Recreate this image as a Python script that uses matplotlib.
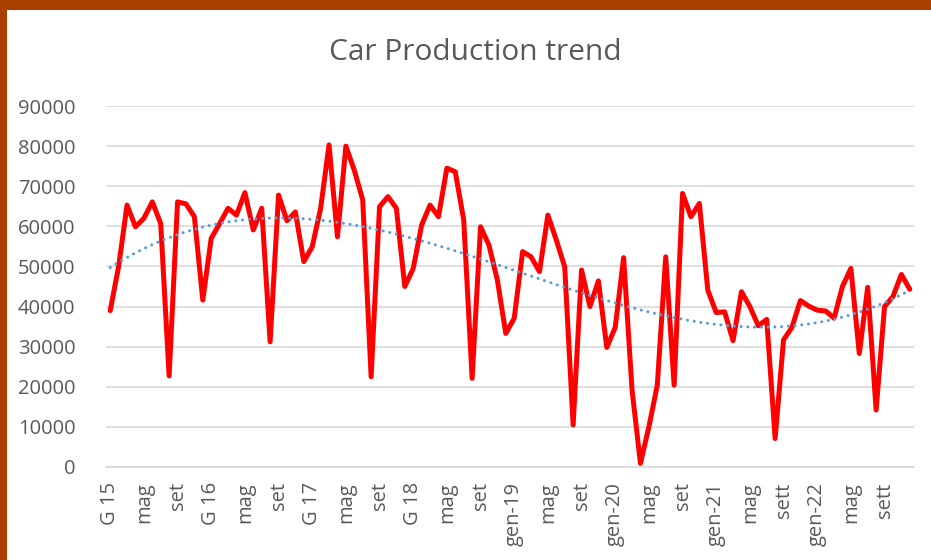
import numpy as np
import matplotlib
matplotlib.use("Agg")
import matplotlib.pyplot as plt
from matplotlib.patches import Rectangle

# Monthly car production, Jan 2015 .. Dec 2022
production = [
    39000, 50000, 65300, 59900, 62000, 66100, 60700, 22700, 66100, 65600, 62400, 41600,   # 2015
    57000, 60700, 64500, 62800, 68400, 59100, 64500, 31200, 67800, 61400, 63600, 51200,   # 2016
    54900, 64500, 80300, 57400, 80000, 74000, 66600, 22500, 64900, 67400, 64500, 45000,   # 2017
    49500, 60300, 65300, 62400, 74500, 73600, 61600, 22100, 59900, 55300, 46600, 33300,   # 2018
    37100, 53700, 52400, 48700, 62800, 56600, 49900, 10500, 49100, 40000, 46400, 29800,   # 2019
    34800, 52200, 19200, 900, 10000, 20400, 52400, 20400, 68200, 62400, 65700, 44100,     # 2020
    38500, 38700, 31500, 43700, 40000, 35200, 36800, 7100, 31700, 34800, 41500, 40100,    # 2021
    39100, 38900, 37100, 45000, 49500, 28300, 44800, 14200, 40000, 42500, 48000, 44300,   # 2022
]

tick_labels = ["G 15", "mag", "set", "G 16", "mag", "set", "G 17", "mag", "set",
               "G 18", "mag", "set", "gen-19", "mag", "set", "gen-20", "mag", "set",
               "gen-21", "mag", "sett", "gen-22", "mag", "sett"]
y_ticks = [0, 10000, 20000, 30000, 40000, 50000, 60000, 70000, 80000, 90000]
title = "Car Production trend"
trend_degree = 3

plt.rcParams['font.family'] = ['Open Sans', 'DejaVu Sans']

fig = plt.figure(figsize=(9.31, 5.6), dpi=100)
fig.patch.set_facecolor("white")

# brown frame (top and left)
frame_col = "#A94000"
fig.patches.append(Rectangle((0, 1 - 10/560), 1, 10/560, transform=fig.transFigure,
                             facecolor=frame_col, edgecolor="none", zorder=0))
fig.patches.append(Rectangle((0, 0), 7/931, 1, transform=fig.transFigure,
                             facecolor=frame_col, edgecolor="none", zorder=0))

ax = fig.add_axes([106/931, 1 - 467/560, (914 - 106)/931, (467 - 106)/560])
x = np.arange(len(production))
y = np.array(production, dtype=float)

ax.plot(x, y, color="#FF0000", lw=3.6, solid_joinstyle="round", solid_capstyle="round", zorder=3)

coef = np.polyfit(x + 1, y, trend_degree)
xt = np.linspace(0, len(production) - 1, 400)
ax.plot(xt, np.polyval(coef, xt + 1), color="#5B9BD5", lw=2.2,
        linestyle=(0, (0.01, 2.2)), dash_capstyle="round", zorder=4)

ax.set_xlim(-0.5, len(production) - 0.5)
ax.set_ylim(0, 90000)
ax.set_yticks(y_ticks)
ax.set_yticklabels([str(v) for v in y_ticks])
ax.set_xticks(np.arange(0, len(production), 4))
ax.set_xticklabels(tick_labels, rotation=90, va="top", ha="center")

ax.grid(axis="y", color="#D9D9D9", lw=1.2)
ax.set_axisbelow(True)
for s in ["top", "right", "left"]:
    ax.spines[s].set_visible(False)
ax.spines["bottom"].set_color("#D9D9D9")
ax.spines["bottom"].set_linewidth(1.2)
ax.tick_params(axis="both", length=0, colors="#595959", labelsize=14.5)
ax.tick_params(axis="y", pad=22)
ax.tick_params(axis="x", pad=11)

fig.text(475/931, 1 - 53/560, title, ha="center", va="center", fontsize=21.5, color="#595959")

fig.savefig("out.png", dpi=100)
